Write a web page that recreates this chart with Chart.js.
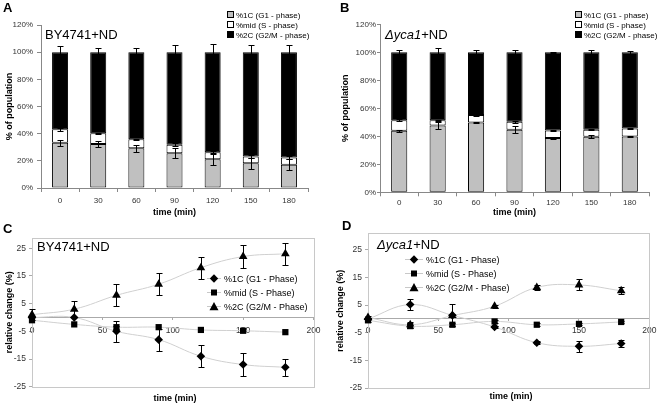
<!DOCTYPE html>
<html>
<head>
<meta charset="utf-8">
<script src="https://cdn.jsdelivr.net/npm/chart.js@4/dist/chart.umd.min.js"></script>
<style>
html, body { margin: 0; padding: 0; background: #fff; }
#wrap { position: relative; width: 661px; height: 409px; overflow: hidden; }
#wrap canvas { position: absolute; left: 0; top: 0; }
.txt { position: absolute; line-height: 1; white-space: nowrap; font-family: "Liberation Sans", Arial, sans-serif; color: #000; }
.sq { display: inline-block; width: 5px; height: 5px; border: 1px solid #000; margin-right: 2px; vertical-align: 0; }
.txt svg { vertical-align: -1px; margin-right: 3px; }
</style>
</head>
<body>
<div id="wrap">
  <canvas id="chartA" width="661" height="409"></canvas>
  <canvas id="chartB" width="661" height="409"></canvas>
  <canvas id="chartC" width="661" height="409"></canvas>
  <canvas id="chartD" width="661" height="409"></canvas>
</div>
<script>
// time points (min)
const timeLabels = ['0', '30', '60', '90', '120', '150', '180'];
const timeValues = [0, 30, 60, 90, 120, 150, 180];

// A: BY4741+ND, % of population
const wtG1 = [33.4, 32.4, 29.2, 25.6, 21.1, 18.2, 17.2];
const wtMid = [9.8, 7.9, 6.7, 6.3, 5.2, 4.9, 5.2];
const wtG2 = [56.8, 59.7, 64.1, 68.1, 73.7, 76.9, 77.6];
const wtG1Err = [2.2, 2.5, 2.8, 3.7, 4.5, 3.9, 3.8];
const wtMidErr = [1, 0.5, 0.5, 1, 1, 1, 1];
const wtG2Err = [4.2, 3.4, 3.4, 5.2, 5.7, 5.2, 5.2];

// B: yca1 deletion + ND
const ycaG1 = [43.9, 47.7, 49.9, 44.7, 38.7, 39.7, 39.9];
const ycaMid = [7.6, 3.8, 5.4, 5.7, 5.5, 5.0, 5.7];
const ycaG2 = [48.5, 48.5, 44.7, 49.6, 55.8, 55.3, 54.4];
const ycaG1Err = [0.5, 2.7, 0.4, 2.4, 0.6, 1, 0.6];
const ycaMidErr = [0.7, 0.5, 0.5, 0.7, 0.4, 0.5, 0.4];
const ycaG2Err = [1.9, 3.3, 1.9, 1.9, 0.5, 1.9, 1];

// C: relative change BY4741+ND (%)
const relWtG1 = [0, 0, -5, -8, -14, -17, -18];
const relWtMid = [-1, -2.5, -3.5, -3.5, -4.5, -4.8, -5.3];
const relWtG2 = [1, 3, 8, 12, 18, 22, 23];
const relWtG1Err = [0, 0, 3.9, 4, 4, 4, 3];
const relWtMidErr = [0, 0, 0.5, 0, 0, 0, 0];
const relWtG2Err = [2, 3, 4, 4, 4, 4, 4];

// D: relative change yca1 + ND (%)
const relYcaG1 = [0, 5.2, 1.3, -2.9, -8.6, -9.9, -8.9];
const relYcaMid = [-0.5, -2.6, -2.1, -0.9, -2.1, -1.8, -1.1];
const relYcaG2 = [0.5, -2.1, 1.2, 4.6, 11.4, 12.3, 10.2];
const relYcaG1Err = [0.5, 2, 4, 0.5, 0.5, 2, 1.2];
const relYcaMidErr = [0.5, 0.5, 0.5, 0.5, 0.5, 0.5, 0.5];
const relYcaG2Err = [0.5, 1, 0.5, 0.5, 0.8, 2, 1.2];

const relTicks = [-25, -15, -5, 5, 15, 25];
const phaseNames = ['%1C (G1 - phase)', '%mid (S - phase)', '%2C (G2/M - phase)'];
const phaseNamesRel = ['%1C (G1 - Phase)', '%mid (S - Phase)', '%2C (G2/M - Phase)'];

const FONT = '"Liberation Sans", Arial, sans-serif';
Chart.defaults.font.family = FONT;
Chart.defaults.color = '#333';

const errorBars = {
  id: 'errorBars',
  afterDatasetsDraw(chart) {
    const ctx = chart.ctx;
    const ys = chart.scales.y;
    ctx.save();
    ctx.strokeStyle = '#000';
    ctx.lineWidth = 1;
    chart.data.datasets.forEach((ds, di) => {
      if (!ds.errors) return;
      const meta = chart.getDatasetMeta(di);
      meta.data.forEach((el, i) => {
        const err = ds.errors[i];
        if (!err) return;
        let v = 0;
        if (chart.config.type === 'bar') {
          for (let k = 0; k <= di; k++) v += chart.data.datasets[k].data[i];
        } else {
          v = ds.data[i].y;
        }
        const x = Math.round(el.x) + 0.5;
        const y1 = Math.round(ys.getPixelForValue(v + err)) + 0.5;
        const y2 = Math.round(ys.getPixelForValue(v - err)) + 0.5;
        ctx.beginPath();
        ctx.moveTo(x, y1); ctx.lineTo(x, y2);
        ctx.moveTo(x - 3, y1); ctx.lineTo(x + 3, y1);
        ctx.moveTo(x - 3, y2); ctx.lineTo(x + 3, y2);
        ctx.stroke();
      });
    });
    ctx.restore();
  }
};

const plotBox = {
  id: 'plotBox',
  beforeDatasetsDraw(chart) {
    const a = chart.chartArea;
    const ctx = chart.ctx;
    ctx.save();
    ctx.strokeStyle = '#c8c8c8';
    ctx.lineWidth = 1;
    ctx.strokeRect(Math.round(a.left) + 0.5, Math.round(a.top) + 0.5, Math.round(a.width), Math.round(a.height));
    ctx.restore();
  }
};

function barChart(id, g1, mid, g2, e1, e2, e3, L) {
  return new Chart(document.getElementById(id), {
    type: 'bar',
    data: {
      labels: timeLabels,
      datasets: [
        { label: phaseNames[0], data: g1, backgroundColor: '#c0c0c0', errors: e1 },
        { label: phaseNames[1], data: mid, backgroundColor: '#ffffff', errors: e2 },
        { label: phaseNames[2], data: g2, backgroundColor: '#000000', errors: e3 }
      ]
    },
    plugins: [errorBars],
    options: {
      responsive: false,
      animation: false,
      events: [],
      layout: { padding: { left: L.padLeft, top: L.top, right: 661 - L.right, bottom: 409 - L.bottom - L.xh } },
      datasets: { bar: { barPercentage: 0.42, categoryPercentage: 1, borderColor: '#000', borderWidth: 1, borderSkipped: false } },
      plugins: { legend: { display: false }, tooltip: { enabled: false } },
      scales: {
        x: {
          stacked: true,
          grid: { offset: true, drawOnChartArea: false, tickLength: 4, color: '#888' },
          border: { color: '#888' },
          ticks: { font: { size: 8 }, padding: L.xPad, color: '#333' },
          title: { display: true, text: 'time (min)', font: { size: 9, weight: 'bold' }, color: '#000', padding: { top: 0, bottom: 0 } },
          afterFit: s => { s.height = L.xh; }
        },
        y: {
          stacked: true, min: 0, max: 120,
          grid: { drawOnChartArea: false, tickLength: L.tl, color: '#888' },
          border: { color: '#888' },
          ticks: { stepSize: 20, font: { size: 8 }, padding: L.yPad, color: '#333', callback: v => v + '%' },
          title: { display: true, text: '% of population', font: { size: 9, weight: 'bold' }, color: '#000', padding: { top: L.titlePad, bottom: 0 } },
          afterFit: s => { s.width = L.yw; }
        }
      }
    }
  });
}

function lineSet(label, ys, errs, style, radius) {
  return {
    label: label,
    data: timeValues.map((t, i) => ({ x: t, y: ys[i] })),
    errors: errs,
    borderColor: '#d0d0d0',
    borderWidth: 1,
    tension: 0.4,
    pointStyle: style,
    pointRadius: radius,
    pointBackgroundColor: '#000',
    pointBorderColor: '#000',
    pointBorderWidth: 0,
    clip: false
  };
}

function relChart(id, g1, mid, g2, e1, e2, e3, L) {
  return new Chart(document.getElementById(id), {
    type: 'line',
    data: {
      datasets: [
        lineSet(phaseNamesRel[0], g1, e1, 'rectRot', 4.3),
        lineSet(phaseNamesRel[1], mid, e2, 'rect', 4.4),
        lineSet(phaseNamesRel[2], g2, e3, 'triangle', 5)
      ]
    },
    plugins: [plotBox, errorBars],
    options: {
      responsive: false,
      animation: false,
      events: [],
      layout: { padding: { left: L.padLeft, top: L.top, right: 661 - L.right, bottom: 409 - L.bottom } },
      plugins: { legend: { display: false }, tooltip: { enabled: false } },
      scales: {
        x: {
          type: 'linear', min: 0, max: 200, position: { y: 0 },
          grid: { drawOnChartArea: false, tickLength: 2, color: '#aaa' },
          border: { color: '#aaa' },
          ticks: { stepSize: 50, font: { size: 8.5 }, padding: L.xPad, color: '#333' }
        },
        y: {
          min: -25, max: L.ymax,
          grid: { drawOnChartArea: false, tickLength: 3, color: '#aaa' },
          border: { color: '#aaa' },
          ticks: { font: { size: 8.5 }, padding: 3, color: '#333' },
          afterBuildTicks: s => { s.ticks = relTicks.map(v => ({ value: v })); },
          title: { display: true, text: 'relative change (%)', font: { size: 9, weight: 'bold' }, color: '#000', padding: { top: L.titlePad, bottom: 0 } },
          afterFit: s => { s.width = L.yw; }
        }
      }
    }
  });
}

barChart('chartA', wtG1, wtMid, wtG2, wtG1Err, wtMidErr, wtG2Err,
  { padLeft: 0, yw: 41, top: 25, right: 308, bottom: 188, xh: 30, xPad: 4, yPad: 4, tl: 4, titlePad: 4.6 });
barChart('chartB', ycaG1, ycaMid, ycaG2, ycaG1Err, ycaMidErr, ycaG2Err,
  { padLeft: 340, yw: 40, top: 24.3, right: 649, bottom: 192.3, xh: 25.7, xPad: 1.6, yPad: 1, tl: 3, titlePad: 0 });
relChart('chartC', relWtG1, relWtMid, relWtG2, relWtG1Err, relWtMidErr, relWtG2Err,
  { padLeft: 0, yw: 32, top: 238, right: 313.5, bottom: 386.7, ymax: 28.7, xPad: 6, titlePad: 4.6 });
relChart('chartD', relYcaG1, relYcaMid, relYcaG2, relYcaG1Err, relYcaMidErr, relYcaG2Err,
  { padLeft: 328, yw: 40, top: 233.3, right: 652, bottom: 388, ymax: 31, xPad: 4.6, titlePad: 7.6 });

// text overlays
const wrap = document.getElementById('wrap');
function addText(x, yMid, size, build, opts) {
  opts = opts || {};
  const d = document.createElement('div');
  d.className = 'txt';
  d.style.left = x + 'px';
  d.style.top = (yMid - size / 2) + 'px';
  d.style.fontSize = size + 'px';
  if (opts.bold) d.style.fontWeight = 'bold';
  if (opts.center) d.style.transform = 'translateX(-50%)';
  if (typeof build === 'string') d.textContent = build; else build(d);
  wrap.appendChild(d);
  return d;
}
function ycaTitle(d) {
  const i = document.createElement('i');
  i.textContent = '\u0394yca1';
  d.appendChild(i);
  d.appendChild(document.createTextNode('+ND'));
}

addText(3, 7.5, 13, 'A', { bold: true });
addText(340, 7.5, 13, 'B', { bold: true });
addText(3, 228, 13, 'C', { bold: true });
addText(342, 225, 13, 'D', { bold: true });

addText(45, 34, 13, 'BY4741+ND');
addText(385, 34, 13, ycaTitle);
addText(37, 246, 13, 'BY4741+ND');
addText(377, 244, 13, ycaTitle);

addText(175, 398, 9, 'time (min)', { bold: true, center: true });
addText(511, 396, 9, 'time (min)', { bold: true, center: true });

// bar legends
const barFills = ['#c0c0c0', '#ffffff', '#000000'];
const barLegendRows = [15, 25, 35];
function barLegend(x) {
  phaseNames.forEach((name, k) => {
    addText(x, barLegendRows[k], 8, d => {
      const s = document.createElement('span');
      s.className = 'sq';
      s.style.background = barFills[k];
      d.appendChild(s);
      d.appendChild(document.createTextNode(name));
    });
  });
}
barLegend(227);
barLegend(575);

// line legends
const markerPaths = [
  'M9,0.3 L13.2,4.5 L9,8.7 L4.8,4.5 Z',
  'M6,1.5 L12,1.5 L12,7.5 L6,7.5 Z',
  'M9,0 L13.5,8.2 L4.5,8.2 Z'
];
function relLegend(x, rows, w) {
  phaseNamesRel.forEach((name, k) => {
    addText(x, rows[k], 9, d => {
      const ns = 'http://www.w3.org/2000/svg';
      const svg = document.createElementNS(ns, 'svg');
      svg.setAttribute('width', w);
      svg.setAttribute('height', 9);
      svg.setAttribute('viewBox', (9 - w / 2) + ' 0 ' + w + ' 9');
      const ln = document.createElementNS(ns, 'line');
      ln.setAttribute('x1', 9 - w / 2); ln.setAttribute('x2', 9 + w / 2);
      ln.setAttribute('y1', 4.5); ln.setAttribute('y2', 4.5);
      ln.setAttribute('stroke', '#c8c8c8');
      svg.appendChild(ln);
      const p = document.createElementNS(ns, 'path');
      p.setAttribute('d', markerPaths[k]);
      p.setAttribute('fill', '#000');
      svg.appendChild(p);
      d.appendChild(svg);
      d.appendChild(document.createTextNode(name));
    });
  });
}
relLegend(207, [278, 292, 306], 14);
relLegend(405, [259, 273, 287], 18);
</script>
</body>
</html>
